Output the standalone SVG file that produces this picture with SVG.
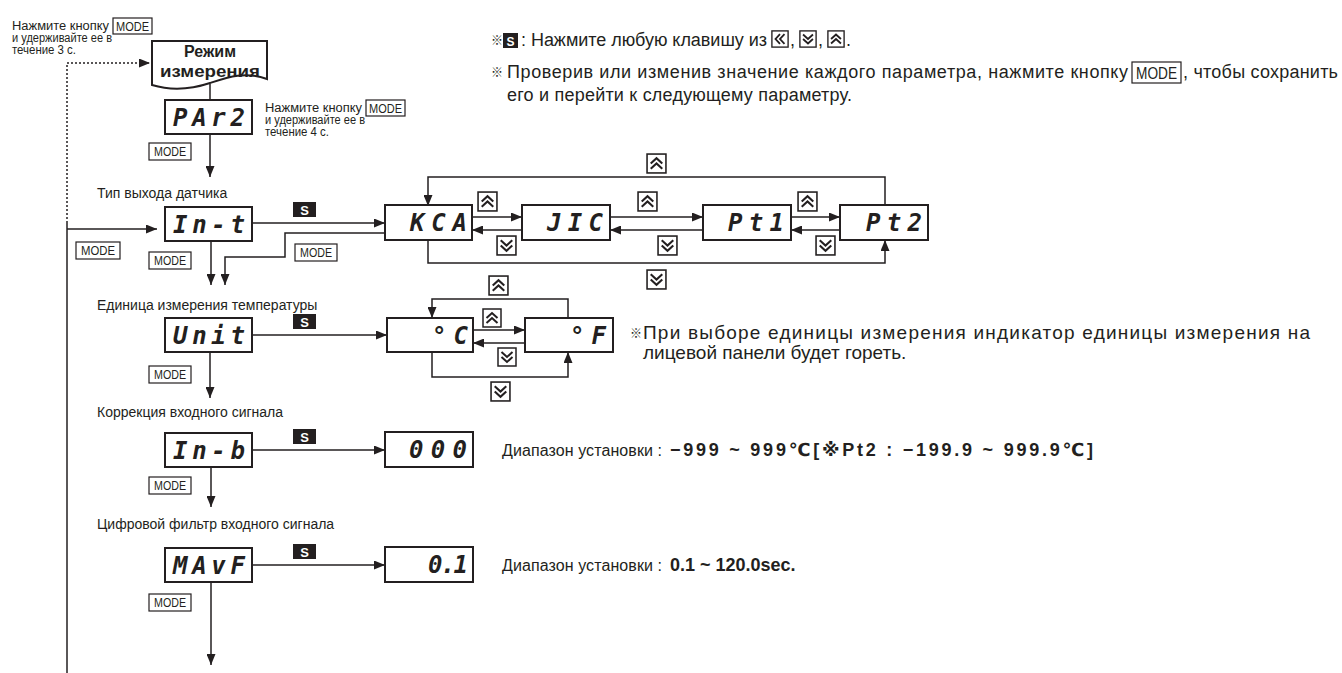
<svg xmlns="http://www.w3.org/2000/svg" xmlns:xlink="http://www.w3.org/1999/xlink" width="1342" height="673" viewBox="0 0 1342 673">
<style>
text{fill:#231f20}
.lbl{font-family:"Liberation Sans","DejaVu Sans",sans-serif;font-size:14px}
.note{font-family:"Liberation Sans","DejaVu Sans","Noto Sans CJK JP",sans-serif;font-size:18px}
.note2{font-family:"Liberation Sans","DejaVu Sans","Noto Sans CJK JP",sans-serif;font-size:19px}
.ref{font-family:"Noto Sans CJK JP","DejaVu Sans",sans-serif;font-size:12px}
.rng{font-family:"Liberation Sans","DejaVu Sans",sans-serif;font-size:16px}
.rngb{font-family:"Liberation Sans","DejaVu Sans","Noto Sans CJK JP",sans-serif;font-size:18px;font-weight:bold}
.sm{font-family:"Liberation Sans Narrow","Liberation Sans",sans-serif;font-size:12.5px}
.disp{font-family:"DejaVu Sans Mono",monospace;font-weight:bold;font-style:italic;font-size:24px}
.dbox{fill:#fff;stroke:#231f20;stroke-width:2}
.mbox{fill:#fff;stroke:#231f20;stroke-width:1.2}
.mtxt{font-family:"Liberation Sans Narrow","Liberation Sans",sans-serif;font-size:12.5px}
.sbox{fill:#231f20}
.stxt{font-family:"Liberation Sans",sans-serif;font-weight:bold;font-size:13px;fill:#fff;text-anchor:middle}
.ln{fill:none;stroke:#231f20;stroke-width:1.5}
.arr{marker-end:url(#ah)}
.dot{stroke-dasharray:2 2}
.title{font-family:"Liberation Sans","DejaVu Sans",sans-serif;font-size:16px;font-weight:bold;text-anchor:middle}
</style>
<defs>
<marker id="ah" markerUnits="userSpaceOnUse" markerWidth="11" markerHeight="9" refX="11" refY="4.5" orient="auto"><path d="M0,0 L11,4.5 L0,9 Z" fill="#231f20"/></marker>
<symbol id="kup" viewBox="0 0 20 20"><rect x="1" y="1" width="18" height="18" fill="#fff" stroke="#231f20" stroke-width="1.5"/><path d="M4.5,10 L10,5 L15.5,10 M4.5,15 L10,10 L15.5,15" fill="none" stroke="#231f20" stroke-width="2"/></symbol>
<symbol id="kdn" viewBox="0 0 20 20"><rect x="1" y="1" width="18" height="18" fill="#fff" stroke="#231f20" stroke-width="1.5"/><path d="M4.5,5 L10,10 L15.5,5 M4.5,10 L10,15 L15.5,10" fill="none" stroke="#231f20" stroke-width="2"/></symbol>
<symbol id="klf" viewBox="0 0 20 20"><rect x="1" y="1" width="18" height="18" fill="#fff" stroke="#231f20" stroke-width="1.5"/><path d="M10,4.5 L5,10 L10,15.5 M15,4.5 L10,10 L15,15.5" fill="none" stroke="#231f20" stroke-width="2"/></symbol>
</defs>
<rect width="1342" height="673" fill="#fff"/>

<g id="notes">
<text class="sm" x="12" y="30" textLength="97" lengthAdjust="spacingAndGlyphs">Нажмите кнопку</text>
<rect class="mbox" x="113" y="18" width="39" height="16"/>
<text class="mtxt" x="116" y="31" textLength="33" lengthAdjust="spacingAndGlyphs">MODE</text>
<text class="sm" x="12" y="42" textLength="100" lengthAdjust="spacingAndGlyphs">и удерживайте ее в</text>
<text class="sm" x="12" y="54" textLength="64" lengthAdjust="spacingAndGlyphs">течение 3 с.</text>

<text class="sm" x="265" y="112" textLength="97" lengthAdjust="spacingAndGlyphs">Нажмите кнопку</text>
<rect class="mbox" x="366" y="100" width="39" height="16"/>
<text class="mtxt" x="369" y="113" textLength="33" lengthAdjust="spacingAndGlyphs">MODE</text>
<text class="sm" x="265" y="124" textLength="100" lengthAdjust="spacingAndGlyphs">и удерживайте ее в</text>
<text class="sm" x="265" y="136" textLength="64" lengthAdjust="spacingAndGlyphs">течение 4 с.</text>

<text class="ref" x="491" y="45">※</text>
<rect class="sbox" x="503" y="33" width="15" height="15"/>
<text class="stxt" x="510.5" y="45.5" style="font-size:12px">S</text>
<text class="note" x="521" y="46" textLength="246" lengthAdjust="spacing">: Нажмите любую клавишу из</text>
<use xlink:href="#klf" x="771" y="30" width="18" height="18"/>
<text class="note" x="790" y="46">,</text>
<use xlink:href="#kdn" x="799" y="30" width="18" height="18"/>
<text class="note" x="818" y="46">,</text>
<use xlink:href="#kup" x="827" y="30" width="18" height="18"/>
<text class="note" x="846" y="46">.</text>

<text class="ref" x="491" y="77">※</text>
<text class="note" x="507" y="78" textLength="621" lengthAdjust="spacing">Проверив или изменив значение каждого параметра, нажмите кнопку</text>
<rect class="mbox" x="1132" y="62" width="49" height="21"/>
<text class="mtxt" x="1136" y="79" style="font-size:16px" textLength="41" lengthAdjust="spacingAndGlyphs">MODE</text>
<text class="note" x="1183" y="78" textLength="155" lengthAdjust="spacing">, чтобы сохранить</text>
<text class="note" x="507" y="101" textLength="345" lengthAdjust="spacing">его и перейти к следующему параметру.</text>

<text class="ref" x="630" y="338">※</text>
<text class="note2" x="643" y="339" textLength="667" lengthAdjust="spacing">При выборе единицы измерения индикатор единицы измерения на</text>
<text class="note2" x="643" y="359">лицевой панели будет гореть.</text>

<text class="rng" x="502" y="456" textLength="160" lengthAdjust="spacing">Диапазон установки :</text>
<text class="rngb" x="670" y="456" textLength="423" lengthAdjust="spacing">−999 ~ 999℃[※Pt2 : −199.9 ~ 999.9℃]</text>
<text class="rng" x="502" y="571" textLength="160" lengthAdjust="spacing">Диапазон установки :</text>
<text class="rngb" x="670" y="571">0.1 ~ 120.0sec.</text>

<text class="lbl" x="97" y="198">Тип выхода датчика</text>
<text class="lbl" x="97" y="310">Единица измерения температуры</text>
<text class="lbl" x="97" y="417">Коррекция входного сигнала</text>
<text class="lbl" x="97" y="529">Цифровой фильтр входного сигнала</text>
</g>

<g id="connectors">
<path class="ln dot arr" d="M67,223 V63 H150"/>
<path class="ln" d="M67,223 V673"/>
<path class="ln arr" d="M67,229 H157"/>
<path class="ln" d="M210,84 V100"/>
<path class="ln arr" d="M210,134 V177"/>
<path class="ln arr" d="M253,223 H385"/>
<path class="ln arr" d="M211,241 V285"/>
<path class="ln arr" d="M385,233 H285 V257 H225 V285"/>
<path class="ln arr" d="M472,217 H522"/>
<path class="ln arr" d="M522,230 H472"/>
<path class="ln arr" d="M610,217 H703"/>
<path class="ln arr" d="M703,230 H610"/>
<path class="ln arr" d="M791,217 H840"/>
<path class="ln arr" d="M840,230 H791"/>
<path class="ln arr" d="M885,206 V177 H428 V206"/>
<path class="ln arr" d="M428,240 V263 H885 V240"/>
<path class="ln arr" d="M253,335 H387"/>
<path class="ln arr" d="M210,352 V398"/>
<path class="ln arr" d="M473,330 H525"/>
<path class="ln arr" d="M525,343 H473"/>
<path class="ln arr" d="M568,318 V299 H432 V318"/>
<path class="ln arr" d="M432,352 V377 H568 V352"/>
<path class="ln arr" d="M253,450 H385"/>
<path class="ln arr" d="M211,467 V507"/>
<path class="ln arr" d="M253,565 H385"/>
<path class="ln arr" d="M211,582 V665"/>
</g>

<g id="keys">
<rect class="mbox" x="76" y="242" width="44" height="17"/>
<text class="mtxt" x="81" y="255" textLength="34" lengthAdjust="spacingAndGlyphs">MODE</text>
<rect class="mbox" x="149" y="143" width="42" height="17"/>
<text class="mtxt" x="154" y="156" textLength="32" lengthAdjust="spacingAndGlyphs">MODE</text>
<rect class="mbox" x="149" y="252" width="42" height="17"/>
<text class="mtxt" x="154" y="265" textLength="32" lengthAdjust="spacingAndGlyphs">MODE</text>
<rect class="mbox" x="295" y="244" width="42" height="17"/>
<text class="mtxt" x="300" y="257" textLength="32" lengthAdjust="spacingAndGlyphs">MODE</text>
<rect class="mbox" x="149" y="366" width="42" height="17"/>
<text class="mtxt" x="154" y="379" textLength="32" lengthAdjust="spacingAndGlyphs">MODE</text>
<rect class="mbox" x="149" y="477" width="42" height="17"/>
<text class="mtxt" x="154" y="490" textLength="32" lengthAdjust="spacingAndGlyphs">MODE</text>
<rect class="mbox" x="149" y="594" width="42" height="17"/>
<text class="mtxt" x="154" y="607" textLength="32" lengthAdjust="spacingAndGlyphs">MODE</text>

<rect class="sbox" x="293" y="202" width="23" height="15"/><text class="stxt" x="304.5" y="214.5">S</text>
<rect class="sbox" x="293" y="314" width="23" height="15"/><text class="stxt" x="304.5" y="326.5">S</text>
<rect class="sbox" x="293" y="429" width="23" height="15"/><text class="stxt" x="304.5" y="441.5">S</text>
<rect class="sbox" x="293" y="544" width="23" height="15"/><text class="stxt" x="304.5" y="556.5">S</text>

<use xlink:href="#kup" x="646" y="153" width="21" height="21"/>
<use xlink:href="#kup" x="477" y="191" width="21" height="21"/>
<use xlink:href="#kup" x="637" y="191" width="21" height="21"/>
<use xlink:href="#kup" x="797" y="191" width="21" height="21"/>
<use xlink:href="#kdn" x="496" y="235" width="21" height="21"/>
<use xlink:href="#kdn" x="657" y="235" width="21" height="21"/>
<use xlink:href="#kdn" x="815" y="235" width="21" height="21"/>
<use xlink:href="#kdn" x="646" y="269" width="21" height="21"/>
<use xlink:href="#kup" x="488" y="275" width="21" height="21"/>
<use xlink:href="#kup" x="482" y="308" width="20" height="20"/>
<use xlink:href="#kdn" x="497" y="347" width="20" height="20"/>
<use xlink:href="#kdn" x="490" y="381" width="21" height="21"/>
</g>

<g id="node-mode-measure">
<path d="M152,41 H267 V79 C245,71 228,77 210,83 C192,89 172,91 152,85 Z" fill="#fff" stroke="#231f20" stroke-width="2"/>
<text class="title" x="210" y="57">Режим</text>
<text class="title" x="210" y="77" textLength="100" lengthAdjust="spacingAndGlyphs">измерения</text>
</g>
<g id="node-PAr2"><rect class="dbox" x="165" y="100" width="87" height="34"/><text class="disp" x="173" y="126" textLength="72" lengthAdjust="spacing">PAr2</text></g>
<g id="node-In-t"><rect class="dbox" x="165" y="207" width="87" height="34"/><text class="disp" x="173" y="233" textLength="72" lengthAdjust="spacing">In-t</text></g>
<g id="node-KCA"><rect class="dbox" x="385" y="205" width="87" height="35"/><text class="disp" x="410" y="231" textLength="57" lengthAdjust="spacing">KCA</text></g>
<g id="node-JIC"><rect class="dbox" x="522" y="205" width="88" height="35"/><text class="disp" x="547" y="231" textLength="56" lengthAdjust="spacing">JIC</text></g>
<g id="node-Pt1"><rect class="dbox" x="703" y="205" width="88" height="35"/><text class="disp" x="728" y="231" textLength="56" lengthAdjust="spacing">Pt1</text></g>
<g id="node-Pt2"><rect class="dbox" x="840" y="205" width="88" height="35"/><text class="disp" x="866" y="231" textLength="56" lengthAdjust="spacing">Pt2</text></g>
<g id="node-Unit"><rect class="dbox" x="165" y="318" width="87" height="34"/><text class="disp" x="173" y="344" textLength="72" lengthAdjust="spacing">Unit</text></g>
<g id="node-oC"><rect class="dbox" x="387" y="318" width="86" height="34"/><text class="disp" x="432" y="344" textLength="36" lengthAdjust="spacing">°C</text></g>
<g id="node-oF"><rect class="dbox" x="525" y="318" width="88" height="34"/><text class="disp" x="570" y="344" textLength="36" lengthAdjust="spacing">°F</text></g>
<g id="node-In-b"><rect class="dbox" x="165" y="433" width="87" height="34"/><text class="disp" x="173" y="459" textLength="72" lengthAdjust="spacing">In-b</text></g>
<g id="node-000"><rect class="dbox" x="385" y="432" width="88" height="35"/><text class="disp" x="409" y="458" textLength="58" lengthAdjust="spacing">000</text></g>
<g id="node-MAvF"><rect class="dbox" x="165" y="548" width="87" height="34"/><text class="disp" x="173" y="574" textLength="72" lengthAdjust="spacing">MAvF</text></g>
<g id="node-01"><rect class="dbox" x="385" y="547" width="88" height="35"/><text class="disp" x="428" y="573" textLength="40" lengthAdjust="spacing">0.1</text></g>
</svg>
